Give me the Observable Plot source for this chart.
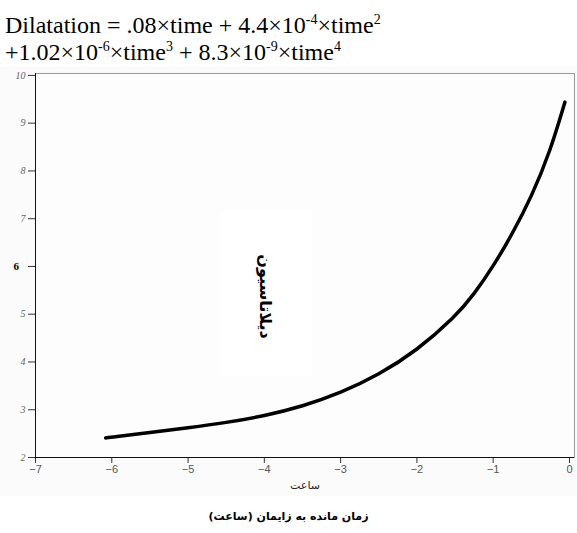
<!DOCTYPE html>
<html><head><meta charset="utf-8">
<script src="https://cdn.jsdelivr.net/npm/d3@7"></script>
<script src="https://cdn.jsdelivr.net/npm/@observablehq/plot@0.6"></script>
<style>
body{margin:0;background:#fff;width:577px;height:533px;overflow:hidden;}
#title{font-family:'Liberation Serif','Tinos','Times New Roman',Times,'DejaVu Serif',serif;font-size:24px;line-height:27px;padding:12px 0 0 5px;height:54px;color:#000;}
#title sup{font-size:14px;vertical-align:9px;line-height:0;}
#chart svg{display:block;}
#caption{font-family:'DejaVu Sans',sans-serif;font-weight:bold;font-size:11px;text-align:center;direction:rtl;margin-top:14px;}
</style></head>
<body>
<div id="title">Dilatation = .08×time + 4.4×10<sup>-4</sup>×time<sup>2</sup><br>+1.02×10<sup>-6</sup>×time<sup>3</sup> + 8.3×10<sup>-9</sup>×time<sup>4</sup></div>
<div id="chart"></div>
<div id="caption">زمان مانده به زایمان (ساعت)</div>
<script>
const time = [-6.08, -6, -5.5, -5, -4.5, -4, -3.5, -3, -2.5, -2, -1.5, -1.25, -1, -0.75, -0.5, -0.25, -0.06];
const dilatation = [2.41, 2.43, 2.52, 2.62, 2.73, 2.87, 3.07, 3.35, 3.73, 4.24, 4.94, 5.42, 6.0, 6.68, 7.45, 8.42, 9.44];
const xTicks = [-7, -6, -5, -4, -3, -2, -1, 0];
const yTicks = [2, 3, 4, 5, 6, 7, 8, 9, 10];
const xDomain = [-7, 0.066];
const yDomain = [2, 10.04];
const yLabel = "دیلاتاسیون";
const xLabel = "ساعت";
const labelPos = [{x: -3.99, y: 5.37}];
const labelBox = [{x1: -4.58, x2: -3.37, y1: 3.7, y2: 7.15}];

const data = time.map((t, i) => ({time: t, dilatation: dilatation[i]}));
const serif = "'Liberation Serif', 'Tinos', 'Times New Roman', Times, 'DejaVu Serif', serif";

const chart = Plot.plot({
  width: 577,
  height: 430,
  marginLeft: 35,
  marginRight: 3,
  marginTop: 7,
  marginBottom: 39,
  style: {background: "#fbfbfb"},
  x: {domain: xDomain},
  y: {domain: yDomain},
  marks: [
    Plot.frame({fill: "#fdfdfd", stroke: "#9a9a9a"}),
    Plot.rect(labelBox, {x1: "x1", x2: "x2", y1: "y1", y2: "y2", fill: "#ffffff"}),
    Plot.axisY(yTicks, {tickSize: 7, fontStyle: "italic", fontFamily: serif, fontSize: 10, fill: "#666", stroke: "#333", tickFormat: d => d === 6 ? "" : d, label: null}),
    Plot.text([6], {y: d => d, frameAnchor: "left", dx: -22, text: d => String(d), fontWeight: "bold", fontSize: 11, fontFamily: serif, fill: "#000"}),
    Plot.axisX(xTicks, {tickSize: 6, fontFamily: "'Liberation Sans', Arial, sans-serif", fontSize: 11, fill: "#555", stroke: "#333", tickPadding: 2, label: null}),
    Plot.ruleY([yDomain[0]], {stroke: "#111"}),
    Plot.ruleX([xDomain[0]], {stroke: "#111"}),
    Plot.text([xLabel], {frameAnchor: "bottom", dy: 31, text: d => d, fontFamily: "'DejaVu Sans', sans-serif", fontSize: 11, fill: "#222"}),
    Plot.text(labelPos, {x: "x", y: "y", text: () => yLabel, rotate: 90, fontFamily: "'DejaVu Sans', sans-serif", fontWeight: "bold", fontSize: 16, fill: "#000"}),
    Plot.line(data, {x: "time", y: "dilatation", curve: "basis", stroke: "#000", strokeWidth: 3.5, strokeLinecap: "round"})
  ]
});
document.getElementById("chart").appendChild(chart);
</script>
</body></html>
